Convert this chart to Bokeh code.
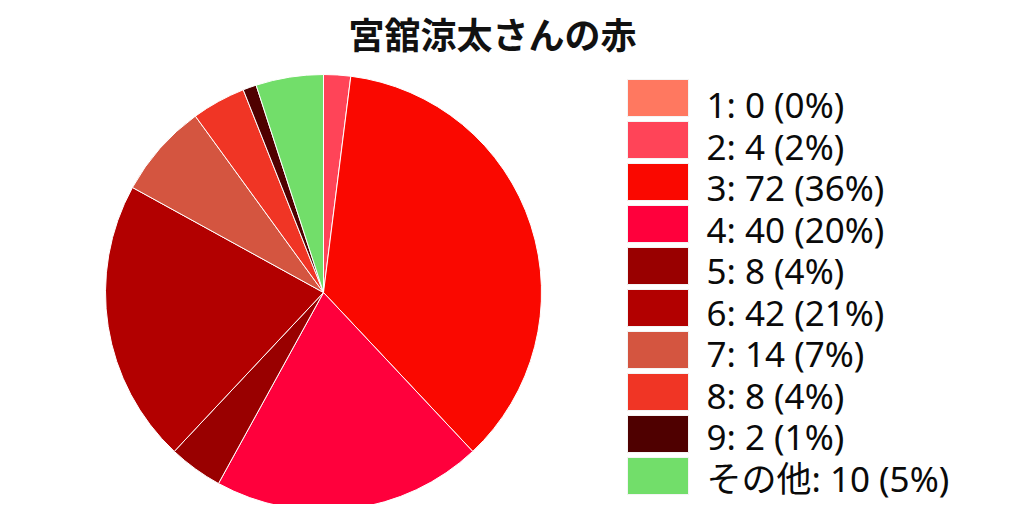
import math
from bokeh.plotting import figure
from bokeh.models import Range1d, ColumnDataSource
from bokeh.core.properties import value
from bokeh.embed import file_html
from bokeh.resources import INLINE

title = "宮舘涼太さんの赤"
names = ["1", "2", "3", "4", "5", "6", "7", "8", "9", "その他"]
counts = [0, 4, 72, 40, 8, 42, 14, 8, 2, 10]
colors = ["#FF7860", "#FF4458", "#FA0800", "#FF003C", "#990000",
          "#B20000", "#D45540", "#F03525", "#4F0000", "#72DE6A"]

W, H = 1008, 504
p = figure(width=W, height=H, output_backend="svg", toolbar_location=None,
           x_range=Range1d(0, W), y_range=Range1d(0, H), min_border=0)
p.axis.visible = False
p.grid.visible = False
p.outline_line_color = None
p.background_fill_color = "white"
p.border_fill_color = "white"

total = sum(counts)
cx, cy, r = 323, 212, 218
starts, ends, cols = [], [], []
cum = 0
for c, col in zip(counts, colors):
    a0 = math.pi / 2 - 2 * math.pi * cum / total
    cum += c
    a1 = math.pi / 2 - 2 * math.pi * cum / total
    if c > 0:
        starts.append(a0)
        ends.append(a1)
        cols.append(col)
src = ColumnDataSource(dict(start=starts, end=ends, color=cols))
p.wedge(x=cx, y=cy, radius=r, start_angle="start", end_angle="end",
        direction="clock", fill_color="color", line_color="white",
        line_width=1, source=src)

# legend
labels = [f"{n}: {c} ({round(c / total * 100)}%)" for n, c in zip(names, counts)]
box_left, box_w, box_h, step = 627, 61, 37, 42
top0 = H - 79
tops = [top0 - i * step for i in range(len(names))]
p.quad(left=box_left, right=box_left + box_w, top=tops,
       bottom=[t - box_h for t in tops], fill_color=colors,
       line_color="#f4f4f4", line_width=1)
base0 = H - 104
p.text(x=[706] * len(labels), y=[base0 - i * 41.5 for i in range(len(labels))],
       text=labels,
       text_font=value("'Noto Sans', 'Noto Sans CJK JP'"), text_font_size="35px",
       text_color="#0a0a0a", text_baseline="alphabetic", text_align="left")

p.text(x=[492], y=[H - 32], text=[title], text_font=value("Noto Sans CJK JP"),
       text_font_size="36px", text_font_style="bold", text_color="#111111",
       text_baseline="middle", text_align="center")

open("out.html", "w").write(file_html(p, INLINE))
